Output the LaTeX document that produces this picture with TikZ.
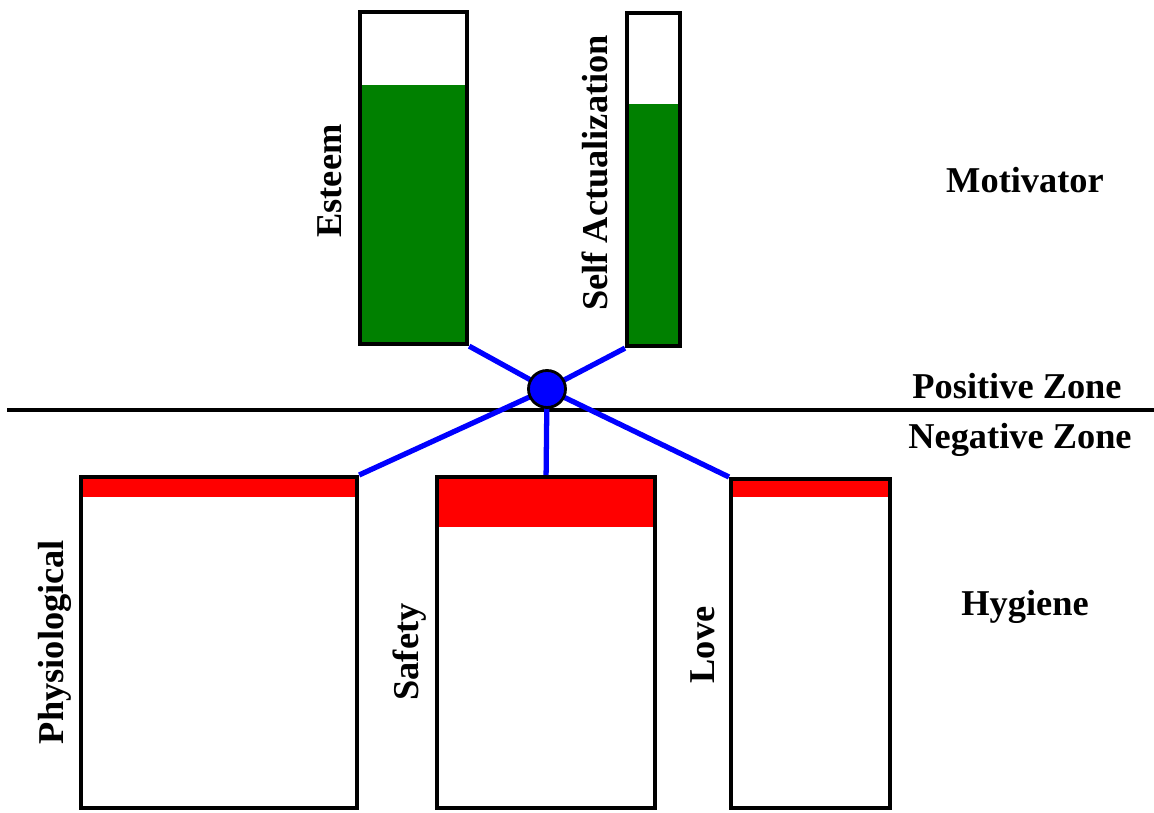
\documentclass[tikz,border=0pt]{standalone}
\usepackage{fontspec}
\setmainfont{Liberation Serif}
\usetikzlibrary{positioning}

\definecolor{fullgreen}{RGB}{0,128,0}
\definecolor{fullred}{RGB}{255,0,0}
\definecolor{fullblue}{RGB}{0,0,255}

\begin{document}
\begin{tikzpicture}[x=0.02cm, y=-0.02cm,
	bar/.style={draw, line width=2.4pt, rectangle, inner sep=0pt, anchor=north west},
	lbl/.style={font=\fontsize{20.7}{24}\selectfont\bfseries, inner sep=0pt},
	link/.style={fullblue, line width=3pt}]
	\useasboundingbox (0,0) rectangle (1154,813);

	% fill levels
	\fill[fullgreen] (358,85) rectangle (465,342);
	\fill[fullgreen] (625,104) rectangle (678,344);
	\fill[fullred] (79,475) rectangle (355,497);
	\fill[fullred] (435,475) rectangle (653,527);
	\fill[fullred] (729,477) rectangle (888,497);

	% need boxes
	\node[bar, minimum width=2.14cm, minimum height=6.64cm] (esteem) at (358,10) {};
	\node[bar, minimum width=1.06cm, minimum height=6.66cm] (selfact) at (625,11) {};
	\node[bar, minimum width=5.52cm, minimum height=6.62cm] (physio) at (79,475) {};
	\node[bar, minimum width=4.36cm, minimum height=6.62cm] (safety) at (435,475) {};
	\node[bar, minimum width=3.18cm, minimum height=6.58cm] (love) at (729,477) {};

	\node[lbl, rotate=90] (esteemlbl) at (330,181) {Esteem};
	\node[lbl, rotate=90] (selfactlbl) at (595,173) {Self Actualization};
	\node[lbl, rotate=90] (physiolbl) at (55,642) {Physiological};
	\node[lbl, rotate=90] (safetylbl) at (410,652) {Safety};
	\node[lbl, rotate=90] (lovelbl) at (703,645) {Love};

	% zones
	\coordinate (zl) at (7,410);
	\coordinate (zr) at (1154,410);
	\draw[line width=1.9pt] (zl) -- (zr);
	\node[lbl] (motivator) at (1025,180) {Motivator};
	\node[lbl] (poszone) at (1017,386) {Positive Zone};
	\node[lbl] (negzone) at (1020,440) {Negative Zone};
	\node[lbl] (hygiene) at (1025,607) {Hygiene};

	% hub
	\coordinate (hubc) at (547,389);
	\draw[link] (esteem.south east) -- (hubc);
	\draw[link] (selfact.south west) -- (hubc);
	\draw[link] (hubc) -- (physio.north east);
	\draw[link] (hubc) -- (safety.north);
	\draw[link] (hubc) -- (love.north west);
	\node[circle, draw, fill=fullblue, line width=1.6pt, minimum size=0.74cm, inner sep=0pt] (hub) at (hubc) {};
\end{tikzpicture}
\end{document}
